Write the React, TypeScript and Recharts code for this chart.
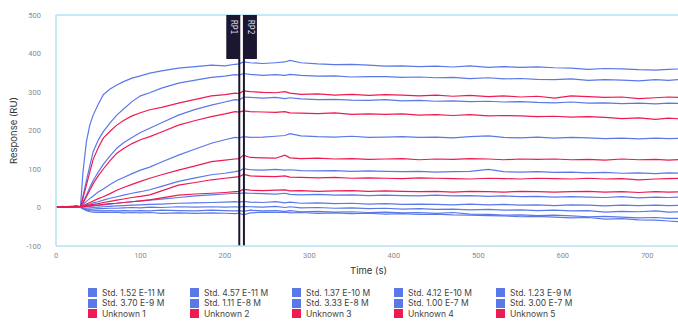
import React from "react";
import { LineChart, Line, XAxis, YAxis, ReferenceLine } from "recharts";

// ---------------------------------------------------------------------------
// Data
// ---------------------------------------------------------------------------

const times = [
  0, 8, 16, 24, 29, 32, 36, 40, 44, 50, 56, 64, 72, 80, 90, 100, 111, 125, 145, 165, 184, 200, 212, 217,
  222, 230, 245, 260, 271, 277, 290, 310, 330, 350, 370, 390, 410, 430, 450, 470, 490, 512, 530, 550, 570,
  590, 610, 630, 650, 670, 690, 710, 725, 740,
];

const std152e11 = [
  0, 1, 2, 1, 0, -4, -8, -11, -12, -13, -12, -13, -12, -14, -13, -14, -13, -15, -14, -15, -14, -15, -16, -15,
  -19, -14, -12, -13, -12, -14, -13, -15, -14, -16, -15, -17, -16, -18, -17, -19, -20, -21, -22, -24, -23, -25, -27, -26, -30, -29, -32, -33, -35, -37,
];
const std457e11 = [
  1, 0, 2, 1, 1, -3, -6, -8, -9, -8, -9, -8, -9, -8, -9, -8, -9, -7, -8, -9, -7, -8, -9, -8,
  -10, -7, -9, -8, -10, -8, -11, -10, -12, -11, -13, -12, -14, -13, -15, -13, -17, -18, -20, -19, -21, -20, -22, -24, -23, -25, -27, -26, -28, -28,
];
const std137e10 = [
  0, 2, 1, 2, 1, -2, -4, -5, -4, -3, -3, -2, -2, -1, 0, -1, 1, 0, 2, 1, 2, 1, 2, 1,
  3, 2, 1, 3, 0, 2, -1, 0, -2, -1, -3, -2, -4, -3, -5, -4, -6, -5, -7, -6, -8, -7, -9, -8, -12, -10, -11, -9, -12, -11,
];
const std412e10 = [
  1, 0, 2, 3, 1, -1, -2, -1, 0, 1, 2, 3, 4, 5, 6, 7, 8, 9, 11, 12, 13, 14, 15, 14,
  16, 14, 13, 15, 12, 14, 11, 12, 10, 11, 9, 10, 8, 9, 8, 7, 9, 7, 8, 6, 7, 5, 7, 6, 4, 6, 5, 6, 5, 6,
];
const std123e9 = [
  1, 2, 0, 3, 2, 1, 2, 3, 4, 6, 7, 9, 11, 13, 15, 17, 19, 22, 26, 30, 33, 35, 37, 36,
  38, 37, 36, 35, 37, 34, 33, 34, 32, 33, 31, 32, 31, 30, 32, 30, 31, 29, 30, 28, 29, 27, 28, 27, 26, 28, 25, 27, 26, 27,
];
const std370e9 = [
  1, 2, 1, 2, 2, 4, 7, 9, 12, 15, 19, 24, 28, 32, 37, 41, 46, 55, 68, 77, 85, 89, 93, 95,
  101, 98, 97, 99, 97, 98, 96, 95, 96, 94, 95, 94, 93, 94, 92, 93, 94, 99, 93, 92, 93, 91, 92, 90, 91, 89, 90, 88, 90, 89,
];
const std111e8 = [
  1, 2, 0, 3, 2, 8, 16, 23, 30, 40, 48, 60, 70, 78, 88, 97, 105, 118, 136, 152, 167, 176, 182, 181,
  184, 182, 183, 185, 187, 192, 186, 184, 183, 185, 182, 183, 184, 182, 183, 181, 184, 186, 182, 181, 183, 180, 182, 181, 179, 180, 178, 180, 179, 180,
];
const std333e8 = [
  1, 3, 1, 2, 3, 14, 32, 52, 70, 92, 112, 134, 154, 168, 182, 195, 206, 220, 240, 255, 266, 274, 280, 279,
  287, 286, 284, 286, 283, 285, 282, 280, 281, 279, 278, 280, 277, 278, 276, 277, 275, 276, 274, 275, 273, 272, 274, 271, 272, 270, 271, 269, 271, 270,
];
const std100e7 = [
  1, 2, 0, 3, 2, 30, 70, 108, 145, 175, 197, 220, 240, 256, 275, 290, 298, 310, 323, 331, 338, 341, 345, 344,
  348, 346, 343, 345, 343, 346, 343, 341, 342, 339, 340, 340, 338, 339, 337, 338, 335, 337, 334, 335, 333, 332, 334, 330, 332, 331, 329, 332, 330, 333,
];
const std300e7 = [
  2, 1, 3, 4, 3, 93, 171, 214, 240, 268, 293, 308, 318, 327, 336, 342, 349, 355, 362, 366, 370, 368, 372, 373,
  378, 376, 374, 376, 378, 382, 376, 373, 371, 372, 370, 367, 368, 366, 367, 365, 368, 364, 366, 364, 365, 363, 362, 359, 361, 360, 358, 357, 359, 360,
];

const unknown1 = [
  2, 0, 1, 3, 2, 25, 58, 92, 125, 155, 180, 198, 214, 226, 238, 246, 254, 260, 271, 281, 290, 293, 297, 296,
  303, 301, 299, 298, 301, 297, 294, 295, 292, 294, 291, 293, 292, 290, 292, 289, 291, 288, 290, 287, 289, 284, 290, 288, 286, 287, 283, 285, 287, 286,
];
const unknown2 = [
  2, 1, 2, 3, 2, 12, 28, 45, 62, 82, 100, 122, 141, 153, 166, 176, 184, 196, 214, 226, 236, 243, 249, 248,
  251, 249, 248, 247, 249, 246, 245, 244, 246, 242, 243, 242, 243, 240, 241, 239, 241, 238, 239, 238, 236, 237, 235, 236, 234, 231, 233, 229, 232, 230,
];
const unknown3 = [
  1, 0, 2, 3, 2, 5, 9, 13, 17, 23, 28, 36, 45, 52, 60, 68, 76, 85, 97, 108, 119, 123, 126, 127,
  136, 130, 129, 128, 136, 129, 127, 128, 126, 127, 125, 126, 127, 124, 126, 125, 127, 126, 124, 126, 125, 126, 124, 125, 123, 126, 124, 125, 123, 125,
];
const unknown4 = [
  2, 1, 2, 3, 2, 3, 5, 7, 8, 10, 13, 16, 19, 22, 26, 29, 33, 43, 58, 65, 72, 76, 79, 80,
  86, 82, 81, 80, 82, 79, 78, 77, 78, 76, 77, 76, 75, 77, 76, 75, 74, 76, 75, 74, 76, 75, 74, 76, 74, 75, 72, 74, 75, 76,
];
const unknown5 = [
  2, 1, 1, 2, 2, 2, 3, 4, 5, 6, 8, 10, 11, 13, 15, 17, 20, 25, 32, 35, 37, 39, 41, 42,
  47, 45, 44, 45, 46, 43, 44, 42, 43, 44, 42, 43, 42, 41, 42, 40, 42, 41, 40, 42, 41, 40, 41, 42, 40, 41, 39, 41, 40, 41,
];

const stdLabels = [
  "Std. 1.52 E-11 M", "Std. 4.57 E-11 M", "Std. 1.37 E-10 M", "Std. 4.12 E-10 M", "Std. 1.23 E-9 M",
  "Std. 3.70 E-9 M", "Std. 1.11 E-8 M", "Std. 3.33 E-8 M", "Std. 1.00 E-7 M", "Std. 3.00 E-7 M",
];
const unknownLabels = ["Unknown 1", "Unknown 2", "Unknown 3", "Unknown 4", "Unknown 5"];

const stdSeries = [
  std152e11, std457e11, std137e10, std412e10, std123e9, std370e9, std111e8, std333e8, std100e7, std300e7,
];
const unknownSeries = [unknown1, unknown2, unknown3, unknown4, unknown5];

const xTicks = [0, 100, 200, 300, 400, 500, 600, 700];
const yTicks = [-100, 0, 100, 200, 300, 400, 500];

const reportPoints = [
  { label: "RP1", time: 217, side: "left" },
  { label: "RP2", time: 222.5, side: "right" },
];

// ---------------------------------------------------------------------------
// Styling
// ---------------------------------------------------------------------------

const STD_COLOR = "#5b78e8";
const UNK_COLOR = "#ee1a52";
const FRAME = "#b5e0f2";
const RP_FILL = "#1b1730";

const rows = times.map((t, i) => {
  const row: Record<string, number> = { t };
  stdSeries.forEach((s, k) => (row[`s${k}`] = s[i]));
  unknownSeries.forEach((s, k) => (row[`u${k}`] = s[i]));
  return row;
});

function RpLabel(props: any) {
  const { viewBox, text, side } = props;
  if (!viewBox) return null;
  const w = 13.5;
  const h = 44;
  const x0 = side === "left" ? viewBox.x - w + 0.5 : viewBox.x - 0.5;
  const y0 = viewBox.y;
  const cx = x0 + w / 2;
  const ty = y0 + 5;
  return (
    <g>
      <rect x={x0} y={y0} width={w} height={h} fill={RP_FILL} />
      <text
        x={cx}
        y={ty}
        transform={`rotate(90 ${cx} ${ty})`}
        fill="#d4d7e4"
        fontSize={8}
        fontFamily="DejaVu Sans Mono"
        dominantBaseline="central"
      >
        {text}
      </text>
    </g>
  );
}

const tickStyle = { fontSize: 7.5, fill: "#8a8a8a", fontFamily: "Roboto" };

export default function App() {
  const legendItems = [
    ...stdLabels.map((l) => ({ label: l, color: STD_COLOR })),
    ...unknownLabels.map((l) => ({ label: l, color: UNK_COLOR })),
  ];

  return (
    <div
      style={{
        position: "absolute",
        left: 0,
        top: 0,
        width: 678,
        height: 321,
        overflow: "hidden",
        background: "#fff",
        fontFamily: "Inter, sans-serif",
      }}
    >
      <LineChart width={681} height={321} data={rows} margin={{ top: 15, right: 0, left: 0, bottom: 45 }}>
        <XAxis
          dataKey="t"
          type="number"
          domain={[0, 740]}
          ticks={xTicks}
          tick={tickStyle}
          tickLine={false}
          tickSize={0}
          tickMargin={7}
          axisLine={{ stroke: FRAME, strokeWidth: 1.5 }}
          height={30}
          label={{ value: "Time (s)", position: "insideBottom", offset: 2, style: { fontSize: 9.5, fill: "#333", fontFamily: "Inter" } }}
        />
        <YAxis
          type="number"
          domain={[-100, 500]}
          ticks={yTicks}
          tick={tickStyle}
          tickLine={false}
          tickSize={0}
          tickMargin={15}
          width={56}
          axisLine={{ stroke: FRAME, strokeWidth: 1.5 }}
          label={{
            value: "Response (RU)",
            angle: -90,
            position: "insideLeft",
            offset: 14,
            textAnchor: "middle",
            style: { fontSize: 9.5, fill: "#333", fontFamily: "Inter", textAnchor: "middle" },
          }}
        />
        <ReferenceLine y={500} stroke={FRAME} strokeWidth={1.5} />
        {stdSeries.map((_, k) => (
          <Line
            key={`s${k}`}
            dataKey={`s${k}`}
            type="linear"
            stroke={STD_COLOR}
            strokeWidth={1.2}
            dot={false}
            isAnimationActive={false}
          />
        ))}
        {unknownSeries.map((_, k) => (
          <Line
            key={`u${k}`}
            dataKey={`u${k}`}
            type="linear"
            stroke={UNK_COLOR}
            strokeWidth={1.2}
            dot={false}
            isAnimationActive={false}
          />
        ))}
        {reportPoints.map((rp) => (
          <ReferenceLine
            key={rp.label}
            x={rp.time}
            stroke={RP_FILL}
            strokeWidth={2}
            label={<RpLabel text={rp.label} side={rp.side} />}
          />
        ))}
      </LineChart>

      <div
        style={{
          position: "absolute",
          left: 88,
          top: 287.5,
          display: "grid",
          gridTemplateColumns: "repeat(5, 102px)",
          gridAutoRows: "10.5px",
        }}
      >
        {legendItems.map((it) => (
          <div key={it.label} style={{ display: "flex", alignItems: "center", height: 10.5 }}>
            <span style={{ width: 9, height: 9, background: it.color, marginRight: 5, flexShrink: 0 }} />
            <span style={{ fontSize: 8.5, color: "#444", whiteSpace: "nowrap", lineHeight: "10px" }}>{it.label}</span>
          </div>
        ))}
      </div>
    </div>
  );
}
